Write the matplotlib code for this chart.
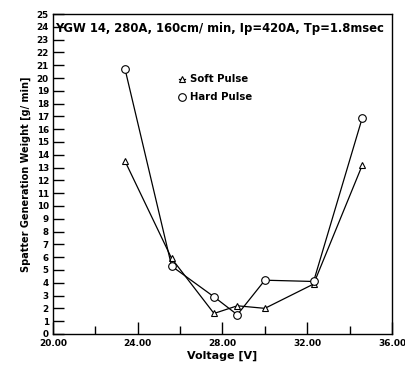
import numpy as np
import matplotlib.pyplot as plt

voltage = [23.4, 25.6, 27.6, 28.7, 30.0, 32.3, 34.6]
soft_pulse = [13.5, 5.9, 1.6, 2.2, 2.0, 3.9, 13.2]
hard_pulse = [20.7, 5.3, 2.9, 1.5, 4.2, 4.1, 16.9]
x_ticks = [20, 24, 28, 32, 36]
y_ticks = list(range(0, 26))

plt.rcParams['font.family'] = ['DejaVu Sans']
plt.rcParams['font.weight'] = 'bold'

fig = plt.figure(figsize=(4.06, 3.69), dpi=100)
ax = fig.add_axes([0.1305, 0.095, 0.835, 0.867])

ax.plot(voltage, soft_pulse, c='k', lw=0.9, marker='^', ms=4.5, mfc='white', mec='k', mew=0.8, label='Soft Pulse')
ax.plot(voltage, hard_pulse, c='k', lw=0.9, marker='o', ms=5.5, mfc='white', mec='k', mew=0.8, label='Hard Pulse')

ax.set_xlim(20, 36)
ax.set_ylim(0, 25)
ax.set_xticks(x_ticks)
ax.set_xticklabels(['%.2f' % t for t in x_ticks], fontsize=6.5, fontweight='bold')
ax.set_xticks([22, 26, 30, 34], minor=True)
ax.set_yticks(y_ticks)
ax.set_yticklabels([str(t) for t in y_ticks], fontsize=6.3, fontweight='bold')
ax.tick_params(axis='x', which='major', direction='in', length=9, width=1)
ax.tick_params(axis='x', which='minor', direction='in', length=6, width=1)
ax.tick_params(axis='y', direction='in', length=8, width=1, pad=3)

ax.set_xlabel('Voltage [V]', fontsize=8, fontweight='bold', labelpad=2)
ax.set_ylabel('Spatter Generation Weight [g/ min]', fontsize=7, fontweight='bold', labelpad=4)

ax.text(0.005, 0.955, 'YGW 14, 280A, 160cm/ min, Ip=420A, Tp=1.8msec', transform=ax.transAxes,
        fontsize=8.4, fontweight='bold', va='center', ha='left')

ax.legend(loc='upper left', bbox_to_anchor=(0.36, 0.825), frameon=False, fontsize=7.3,
          handlelength=0.6, handletextpad=0.5, labelspacing=0.8, borderaxespad=0)

for s in ax.spines.values():
    s.set_linewidth(1)

plt.savefig('out.png', dpi=100)
